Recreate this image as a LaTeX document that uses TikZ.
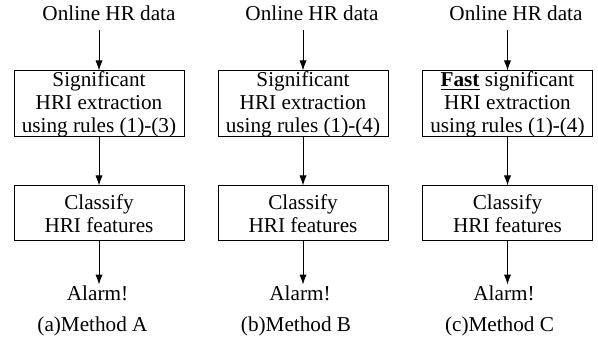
\documentclass[tikz,border=0pt]{standalone}
\usepackage{fontspec}
\setmainfont{Liberation Serif}
\usetikzlibrary{arrows.meta}
\begin{document}
\begin{tikzpicture}[x=0.5pt,y=-0.5pt,
 every node/.style={font=\fontsize{10.6}{11.5}\selectfont},
 lbl/.style={inner sep=1pt,text height=7pt,text depth=2pt},
 stepbox/.style={draw,line width=0.5pt,minimum width=85pt,inner sep=0pt,align=center},
 tallbox/.style={stepbox,minimum height=33pt},
 shortbox/.style={stepbox,minimum height=27.5pt},
 arr/.style={-{Latex[length=5pt,width=3.6pt]},line width=0.5pt}]
\useasboundingbox (0,0) rectangle (598,346);
% Panel A
\node[lbl] (inA) at (109,16) {Online HR data};
\node[tallbox] (b1A) at (99,104) {Significant\\HRI extraction\\using rules (1)-(3)};
\node[shortbox] (b2A) at (99,213.5) {Classify\\HRI features};
\node[lbl] (alA) at (97.5,296) {Alarm!};
\node[lbl] (mA) at (92.5,327) {(a)Method A};
\draw[arr,shorten <=1.5pt] (inA.south -| b1A.north) -- (b1A.north);
\draw[arr] (b1A) -- (b2A);
\draw[arr] (b2A.south) -- (b2A.south |- alA.north);
% Panel B
\node[lbl] (inB) at (312,16) {Online HR data};
\node[tallbox] (b1B) at (303,104) {Significant\\HRI extraction\\using rules (1)-(4)};
\node[shortbox] (b2B) at (303,213.5) {Classify\\HRI features};
\node[lbl] (alB) at (300,296) {Alarm!};
\node[lbl] (mB) at (296,327) {(b)Method B};
\draw[arr,shorten <=1.5pt] (inB.south -| b1B.north) -- (b1B.north);
\draw[arr] (b1B) -- (b2B);
\draw[arr] (b2B.south) -- (b2B.south |- alB.north);
% Panel C
\node[lbl] (inC) at (516,16) {Online HR data};
\node[tallbox] (b1C) at (507.5,104) {\underline{\textbf{Fast}} significant\\HRI extraction\\using rules (1)-(4)};
\node[shortbox] (b2C) at (507.5,213.5) {Classify\\HRI features};
\node[lbl] (alC) at (504,296) {Alarm!};
\node[lbl] (mC) at (499.5,327) {(c)Method C};
\draw[arr,shorten <=1.5pt] (inC.south -| b1C.north) -- (b1C.north);
\draw[arr] (b1C) -- (b2C);
\draw[arr] (b2C.south) -- (b2C.south |- alC.north);
\end{tikzpicture}
\end{document}
